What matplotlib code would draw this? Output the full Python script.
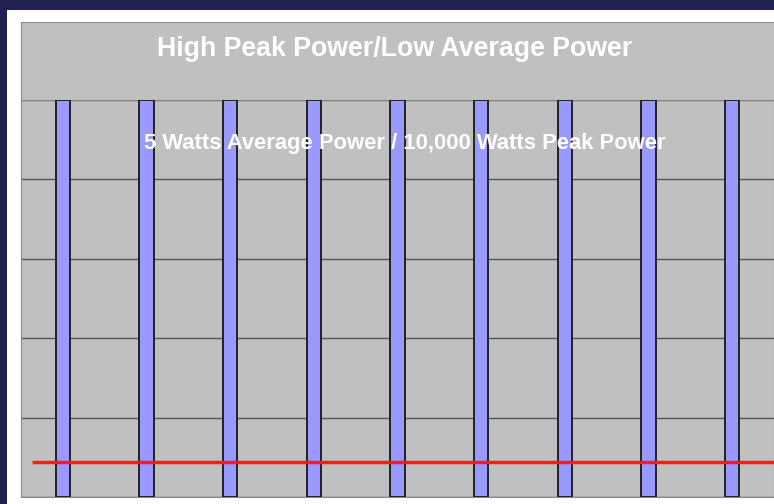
import matplotlib.pyplot as plt
from matplotlib.patches import Rectangle

# pulse train: peak power per pulse, average power level
pulses = [1, 2, 3, 4, 5, 6, 7, 8, 9]
peak_power = [10000, 10000, 10000, 10000, 10000, 10000, 10000, 10000, 10000]
avg_level = 880
avg_start = 0.63

title = 'High Peak Power/Low Average Power'
subtitle = '5 Watts Average Power / 10,000 Watts Peak Power'

W, H = 774, 504
fig = plt.figure(figsize=(W / 100, H / 100), dpi=100)
fig.patch.set_facecolor('#1f2250')

# white frame and grey title box
fig.patches.append(Rectangle((7 / W, 0), 1, 1 - 10 / H, transform=fig.transFigure,
                             facecolor='white', edgecolor='none', zorder=0))
fig.patches.append(Rectangle((21 / W, 1 - 100 / H), 1, 78 / H, transform=fig.transFigure,
                             facecolor='#c0c0c0', edgecolor='#8a8a8a', lw=0.8, zorder=1))

ax = fig.add_axes([21 / W, 7 / H, 1 - 21 / W, 397 / H])
ax.set_zorder(2)
ax.set_facecolor('#c0c0c0')
ax.bar(pulses, peak_power, width=0.17, color='#9999ff', edgecolor='#222222', lw=1.4, zorder=3)
ax.hlines(avg_level, avg_start, 9.5, color='#ff1a1a', lw=2.5, zorder=4)
ax.set_xlim(0.5, 9.5)
ax.set_ylim(0, 10000)
ax.set_yticks(range(0, 10001, 2000))
ax.grid(axis='y', color='#555555', lw=1, zorder=1)
ax.tick_params(left=False, bottom=False, labelleft=False, labelbottom=False)
for s in ax.spines.values():
    s.set_color('#8a8a8a')
    s.set_linewidth(0.8)

fig.text(395 / W, 1 - 49 / H, title, ha='center', va='center', color='white',
         fontsize=19.3, fontweight='bold', family='Liberation Sans', zorder=10)
fig.text(405 / W, 1 - 143 / H, subtitle, ha='center', va='center', color='white',
         fontsize=15.8, fontweight='bold', family='Liberation Sans', zorder=10)

fig.savefig('out.png', dpi=100, facecolor=fig.get_facecolor())
